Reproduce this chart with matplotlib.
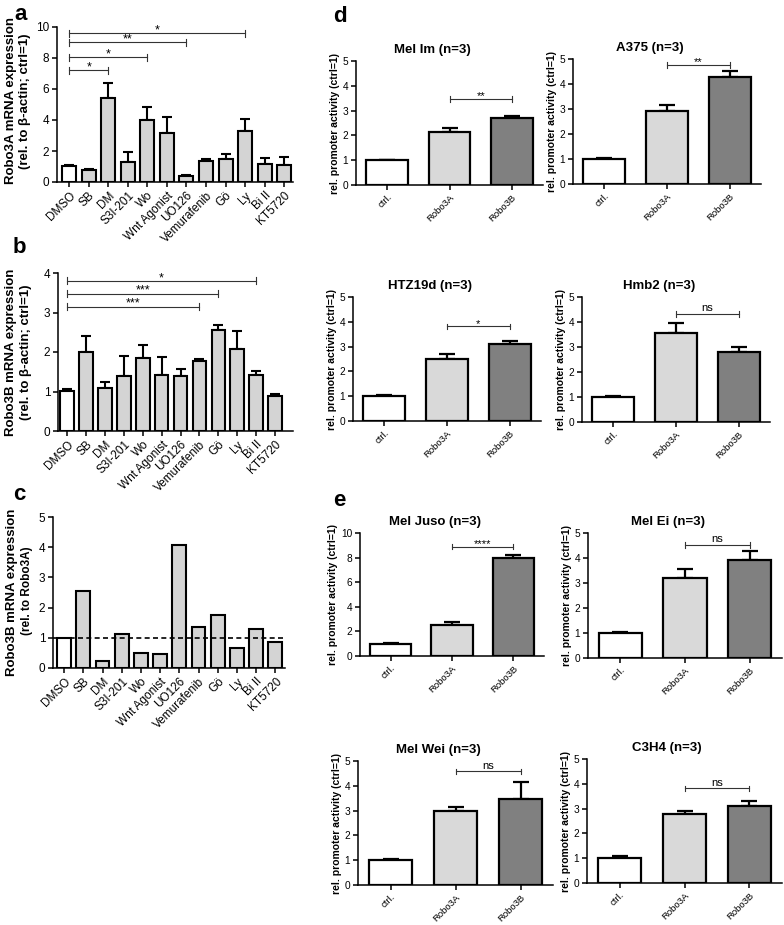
import numpy as np
import matplotlib
matplotlib.use('Agg')
import matplotlib.pyplot as plt

plt.rcParams['font.family'] = ['Liberation Sans', 'DejaVu Sans']
plt.rcParams['axes.linewidth'] = 1.1

# ---- data: panels a-c (drug screen) ----
drugs = ['DMSO', 'SB', 'DM', 'S3I-201', 'Wo', 'Wnt Agonist', 'UO126',
         'Vemurafenib', 'Gö', 'Ly', 'Bi II', 'KT5720']
robo3a_mean = [1.03, 0.78, 5.4, 1.28, 4.0, 3.15, 0.37, 1.35, 1.5, 3.32, 1.14, 1.07]
robo3a_err = [0.05, 0.07, 0.98, 0.65, 0.86, 1.03, 0.05, 0.14, 0.3, 0.72, 0.41, 0.53]
robo3a_sig = [(0, 2, 7.2, '*'), (0, 4, 8.05, '*'), (0, 6, 9.0, '**'), (0, 9, 9.6, '*')]

robo3b_mean = [1.01, 2.0, 1.08, 1.39, 1.86, 1.42, 1.4, 1.76, 2.56, 2.08, 1.42, 0.89]
robo3b_err = [0.06, 0.41, 0.15, 0.5, 0.32, 0.45, 0.17, 0.07, 0.13, 0.44, 0.1, 0.05]
robo3b_sig = [(0, 7, 3.15, '***'), (0, 8, 3.48, '***'), (0, 10, 3.8, '*')]

ratio_3b_3a = [1.0, 2.55, 0.22, 1.12, 0.49, 0.47, 4.08, 1.36, 1.74, 0.65, 1.28, 0.87]

# ---- data: panels d-e (promoter activity) ----
constructs = ['ctrl.', 'Robo3A', 'Robo3B']
cell_lines = ['Mel Im', 'A375', 'HTZ19d', 'Hmb2', 'Mel Juso', 'Mel Ei', 'Mel Wei', 'C3H4']
prom_mean = [[1.0, 2.12, 2.7], [1.0, 2.93, 4.27], [1.0, 2.49, 3.1], [1.0, 3.58, 2.8],
             [1.0, 2.55, 7.95], [1.0, 3.22, 3.93], [1.0, 2.98, 3.45], [1.0, 2.79, 3.12]]
prom_err = [[0.02, 0.16, 0.08], [0.04, 0.24, 0.26], [0.03, 0.2, 0.13], [0.04, 0.37, 0.2],
            [0.05, 0.2, 0.3], [0.04, 0.33, 0.34], [0.03, 0.18, 0.72], [0.1, 0.11, 0.19]]
prom_sig = [('**', 3.47), ('**', 4.77), ('*', 3.82), ('ns', 4.33),
            ('****', 8.9), ('ns', 4.53), ('ns', 4.58), ('ns', 3.82)]
prom_ymax = [5, 5, 5, 5, 10, 5, 5, 5]

W, H = 784, 925
fig = plt.figure(figsize=(W / 100, H / 100), dpi=100)


def box(l, t, r, b):
    return [l / W, 1 - b / H, (r - l) / W, (b - t) / H]


def style(ax, fs):
    ax.spines['top'].set_visible(False)
    ax.spines['right'].set_visible(False)
    ax.tick_params(axis='both', direction='out', length=3.5, width=1.1, labelsize=fs, pad=2)


def sig(ax, x1, x2, y, label, h, fs, dy):
    ax.plot([x1, x2], [y, y], color='#333333', lw=0.8, clip_on=False)
    for x in (x1, x2):
        ax.plot([x, x], [y - h, y + h], color='#333333', lw=0.8, clip_on=False)
    ax.text((x1 + x2) / 2, y + dy, label, ha='center', va='center', fontsize=fs)


def drug_panel(rect, means, errs, ymax, step, xlim, colors):
    ax = fig.add_axes(rect)
    x = np.arange(len(drugs))
    ax.bar(x, means, width=0.72, color=colors, edgecolor='black', linewidth=1.5, zorder=2)
    if errs is not None:
        ax.errorbar(x, means, yerr=[np.zeros(len(errs)), errs], fmt='none', ecolor='black',
                    elinewidth=1.5, capsize=3.5, capthick=1.5, zorder=1)
    ax.set_ylim(0, ymax)
    ax.set_yticks(np.arange(0, ymax + 0.01, step))
    ax.set_xlim(*xlim)
    ax.set_xticks(x)
    ax.set_xticklabels(drugs, rotation=45, ha='right', rotation_mode='anchor')
    style(ax, 8.5)
    return ax


bar_cols = ['white'] + ['#d4d4d4'] * (len(drugs) - 1)

# panel a
ax = drug_panel(box(57, 27, 293, 182), robo3a_mean, robo3a_err, 10, 2, (-0.62, 11.45), bar_cols)
for x1, x2, y, lab in robo3a_sig:
    sig(ax, x1, x2, y, lab, 0.22, 9, 0.2)
fig.text(11 / W, 1 - 101 / H, 'Robo3A mRNA expression', rotation=90, ha='center', va='center',
         fontsize=9.5, fontweight='bold')
fig.text(25 / W, 1 - 101 / H, '(rel. to β-actin; ctrl=1)', rotation=90, ha='center', va='center',
         fontsize=9.5, fontweight='bold')

# panel b
ax = drug_panel(box(58, 273, 293, 431), robo3b_mean, robo3b_err, 4, 1, (-0.48, 11.95), bar_cols)
for x1, x2, y, lab in robo3b_sig:
    sig(ax, x1, x2, y, lab, 0.09, 9, 0.07)
fig.text(11 / W, 1 - 352 / H, 'Robo3B mRNA expression', rotation=90, ha='center', va='center',
         fontsize=9.5, fontweight='bold')
fig.text(26 / W, 1 - 352 / H, '(rel. to β-actin; ctrl=1)', rotation=90, ha='center', va='center',
         fontsize=9.5, fontweight='bold')

# panel c
ax = drug_panel(box(53, 517, 285, 668), ratio_3b_3a, None, 5, 1, (-0.58, 11.5), bar_cols)
ax.axhline(1, color='black', lw=1.2, linestyle=(0, (3, 2)), zorder=3)
fig.text(12 / W, 1 - 592 / H, 'Robo3B mRNA expression', rotation=90, ha='center', va='center',
         fontsize=9.5, fontweight='bold')
fig.text(27 / W, 1 - 591 / H, '(rel. to Robo3A)', rotation=90, ha='center', va='center',
         fontsize=8.5, fontweight='bold')

# panels d / e
prom_boxes = [(356, 61, 543, 185), (573, 59, 761, 184),
              (353, 297, 541, 421), (582, 297, 770, 422),
              (360, 533, 544, 656), (588, 533, 782, 658),
              (358, 761, 553, 885), (587, 759, 782, 883)]
prom_cols = ['white', '#d9d9d9', '#808080']

for i, name in enumerate(cell_lines):
    ax = fig.add_axes(box(*prom_boxes[i]))
    x = np.arange(3)
    ax.bar(x, prom_mean[i], width=0.67, color=prom_cols, edgecolor='black', linewidth=1.6, zorder=2)
    ax.errorbar(x, prom_mean[i], yerr=[np.zeros(3), prom_err[i]], fmt='none', ecolor='black',
                elinewidth=1.6, capsize=5.5, capthick=1.6, zorder=1)
    ymax = prom_ymax[i]
    ax.set_ylim(0, ymax)
    ax.set_yticks(np.arange(0, ymax + 0.01, 1 if ymax == 5 else 2))
    ax.set_xlim(-0.5, 2.5)
    ax.set_xticks(x)
    ax.set_xticklabels(constructs, rotation=45, ha='right', rotation_mode='anchor')
    style(ax, 7.3)
    ax.tick_params(axis='x', labelsize=6.8)
    ax.set_ylabel('rel. promoter activity (ctrl=1)', fontsize=7.5, fontweight='bold', labelpad=2)
    ax.set_title(name + ' (n=3)', fontsize=9.5, fontweight='bold', x=0.41, pad=6)
    lab, y = prom_sig[i]
    sig(ax, 1, 2, y, lab, 0.11 * ymax / 5, 8, (0.1 if lab != 'ns' else 0.22) * ymax / 5)

# panel letters
for letter, px, py in [('a', 21, 15), ('b', 19, 248), ('c', 19, 494), ('d', 340, 17), ('e', 339, 500)]:
    fig.text(px / W, 1 - py / H, letter, ha='center', va='center', fontsize=16, fontweight='bold')

fig.savefig('out.png', dpi=100)
